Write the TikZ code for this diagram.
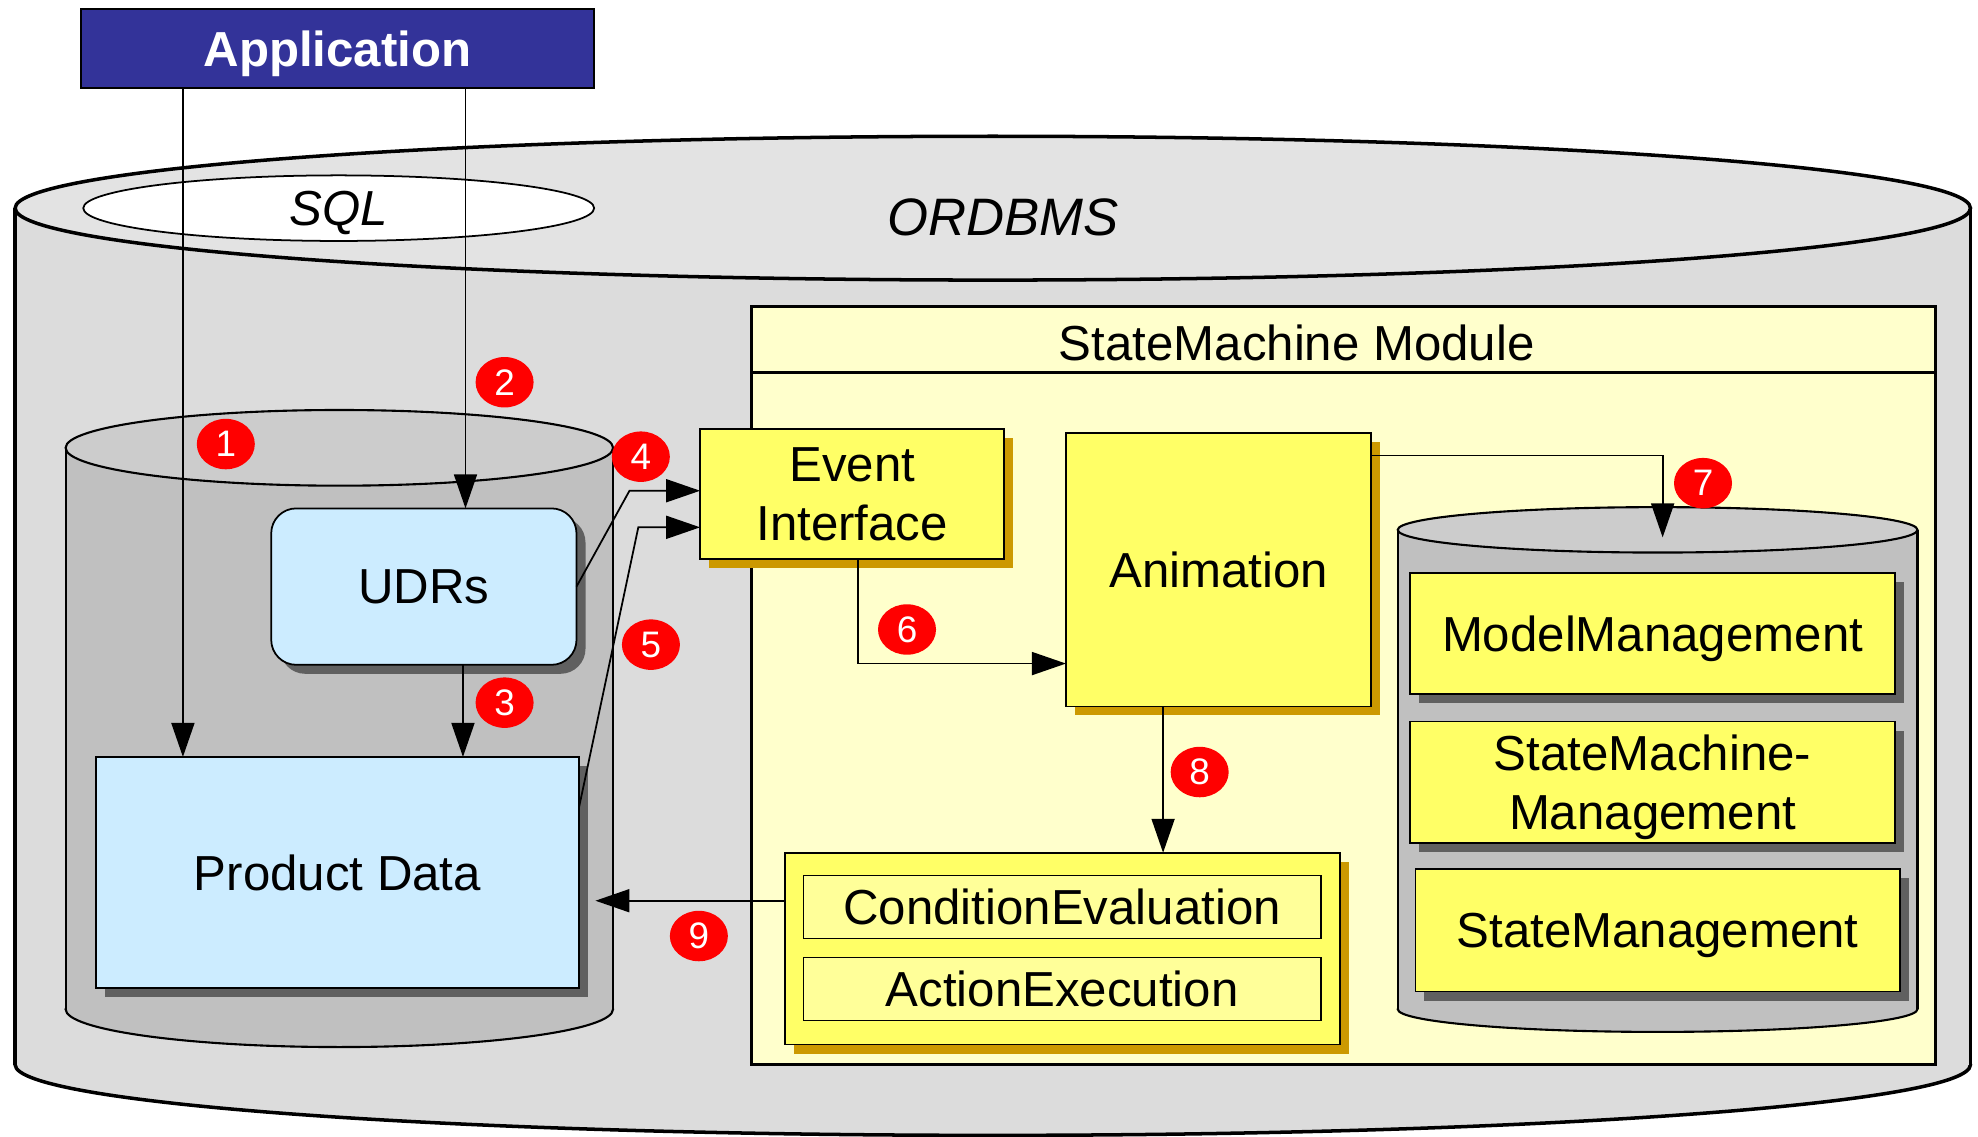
\documentclass[tikz,border=0pt]{standalone}
\usepackage{fontspec}
\setmainfont{Liberation Sans}
\usetikzlibrary{shapes.geometric,arrows.meta,shadows}
\definecolor{appblue}{HTML}{333399}
\definecolor{ordside}{HTML}{DCDCDC}
\definecolor{ordtop}{HTML}{E3E3E3}
\definecolor{dbside}{HTML}{C0C0C0}
\definecolor{dbtop}{HTML}{CCCCCC}
\definecolor{lblue}{HTML}{CCECFF}
\definecolor{shgray}{HTML}{606060}
\definecolor{yel}{HTML}{FFFF66}
\definecolor{yshadow}{HTML}{CC9900}
\definecolor{paleyel}{HTML}{FFFFCC}
\definecolor{inyel}{HTML}{FFFF99}
\definecolor{lblred}{HTML}{FF0000}
\def\pxu{0.012615cm}
\tikzset{
  base/.style={draw=black, line width=0.5pt, inner sep=0pt, outer sep=0pt, text depth=0pt,
    font=\fontsize{14}{16.8}\selectfont, align=center},
  sz/.style 2 args={minimum width=#1*\pxu, minimum height=#2*\pxu},
  bluebox/.style={base, fill=lblue,
    drop shadow={shadow xshift=0.09cm, shadow yshift=-0.09cm, fill=shgray, opacity=1}},
  yelbox/.style={base, fill=yel,
    drop shadow={shadow xshift=0.09cm, shadow yshift=-0.09cm, fill=yshadow, opacity=1}},
  mgmt/.style={base, fill=yel,
    drop shadow={shadow xshift=0.09cm, shadow yshift=-0.09cm, fill=shgray, opacity=1}},
  innerbox/.style={base, fill=inyel},
  lab/.style={ellipse, fill=lblred, text=white, minimum width=46*\pxu,
    minimum height=40*\pxu, inner sep=0pt, font=\fontsize{10.5}{12}\selectfont},
  conn/.style={line width=0.5pt, -{Triangle[length=3.4mm,width=2.3mm]}},
  cylline/.style={line width=0.6pt},
}
\begin{document}
\begin{tikzpicture}[x=0.012615cm, y=-0.012615cm]
\useasboundingbox (0,0) rectangle (1568,901);

% ORDBMS cylinder
\filldraw[fill=ordside, line width=1pt] (787,844) ellipse [x radius=775, y radius=56];
\fill[ordside] (12,165) rectangle (1562,844);
\draw[line width=1pt] (12,165) -- (12,844) (1562,165) -- (1562,844);
\filldraw[fill=ordtop, line width=1pt] (787,165) ellipse [x radius=775, y radius=57];
\node[font=\fontsize{15}{18}\selectfont\itshape] (ordt) at (795,172) {ORDBMS};

% SQL
\node[ellipse, draw, fill=white, line width=0.5pt, sz={405}{52}, inner sep=0pt, text depth=0pt,
  font=\fontsize{14}{17}\selectfont\itshape] (sql) at (268.5,165) {SQL};

% Application
\node[base, fill=appblue, text=white, sz={407}{63},
  font=\fontsize{14}{17}\selectfont\bfseries] (app) at (267.5,38.5) {Application};

% StateMachine module frame
\node[draw, line width=0.9pt, fill=paleyel, sz={938}{601}, inner sep=0pt] (frame) at (1065,543.5) {};
\coordinate (hl) at (0,295);
\draw[line width=0.9pt] (frame.west |- hl) -- (frame.east |- hl);
\node[font=\fontsize{14}{17}\selectfont] (smtitle) at (1028,272) {StateMachine Module};

% left DB cylinder
\filldraw[fill=dbside, cylline] (269,800) ellipse [x radius=217, y radius=30];
\fill[dbside] (52,355) rectangle (486,800);
\draw[cylline] (52,355) -- (52,800) (486,355) -- (486,800);
\filldraw[fill=dbtop, cylline] (269,355) ellipse [x radius=217, y radius=30];

% right DB cylinder
\filldraw[fill=dbside, cylline] (1314,800) ellipse [x radius=206, y radius=18];
\fill[dbside] (1108,420) rectangle (1520,800);
\draw[cylline] (1108,420) -- (1108,800) (1520,420) -- (1520,800);
\filldraw[fill=dbtop, cylline] (1314,420) ellipse [x radius=206, y radius=18];

% blue boxes
\node[bluebox, sz={242}{124}, rounded corners=0.25cm] (udr) at (336,465) {UDRs};
\node[bluebox, sz={383}{183}] (pd) at (267.5,691.5) {Product Data};

% yellow boxes
\node[yelbox, sz={241}{103}] (ei) at (675.5,391.5) {Event\\Interface};
\node[yelbox, sz={242}{217}] (an) at (966,451.5) {Animation};
\node[yelbox, sz={440}{152}] (cebox) at (842,752) {};
\node[innerbox, sz={410}{50}] (ce) at (842,719) {ConditionEvaluation};
\node[innerbox, sz={410}{50}] (ae) at (842,784) {ActionExecution};

\node[mgmt, sz={384}{96}] (mm) at (1310,502) {ModelManagement};
\node[mgmt, sz={384}{96}] (smm) at (1310,620) {StateMachine-\\Management};
\node[mgmt, sz={384}{97}] (stm) at (1314,737.5) {StateManagement};

% connectors
\coordinate (x1) at (145,0);
\coordinate (x2) at (369,0);
\coordinate (x3) at (367,0);
\draw[conn] (app.south -| x1) -- (pd.north -| x1);
\draw[conn] (app.south -| x2) -- (udr.north -| x2);
\draw[conn] (udr.south -| x3) -- (pd.north -| x3);
\coordinate (b4) at (499,389);
\draw[conn] (udr.east) -- (b4) -- (ei.west |- b4);
\coordinate (y5) at (0,640);
\coordinate (b5) at (506,418);
\draw[conn] (pd.east |- y5) -- (b5) -- (ei.west |- b5);
\coordinate (c6) at (680,526);
\draw[conn] (ei.south -| c6) -- (c6) -- (an.west |- c6);
\coordinate (c7) at (1318,361);
\coordinate (t7) at (1318,426);
\draw[conn] (an.east |- c7) -- (c7) -- (t7);
\coordinate (x8) at (922,0);
\draw[conn] (an.south -| x8) -- (cebox.north -| x8);
\coordinate (t9) at (472,714);
\draw[conn] (cebox.west |- t9) -- (t9);

% number labels
\node[lab] (n1) at (179,352) {1};
\node[lab] (n2) at (400,303) {2};
\node[lab] (n3) at (400,557) {3};
\node[lab] (n4) at (508,362) {4};
\node[lab] (n5) at (516,511) {5};
\node[lab] (n6) at (719,499) {6};
\node[lab] (n7) at (1350,383) {7};
\node[lab] (n8) at (951,612) {8};
\node[lab] (n9) at (554,742) {9};
\end{tikzpicture}
\end{document}
